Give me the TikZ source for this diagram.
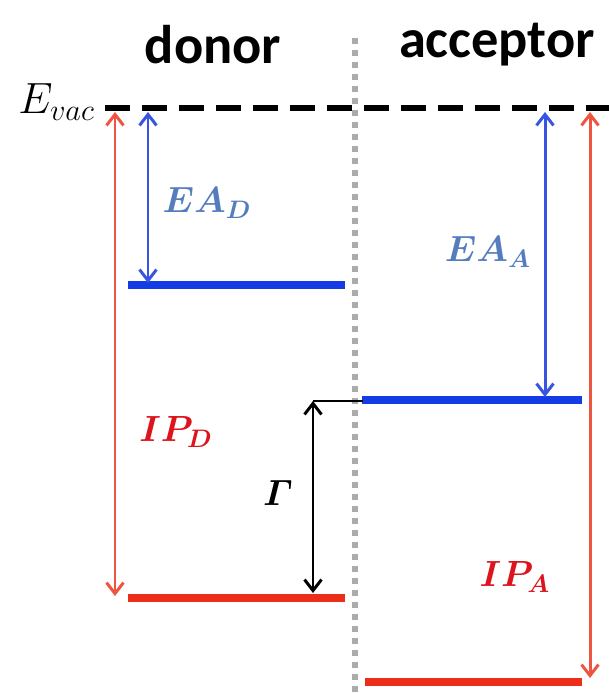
\documentclass[tikz,border=0pt]{standalone}
\usepackage{amsmath,amssymb,bm}
\usepackage{fontspec}
\setsansfont{Carlito}
\usetikzlibrary{arrows.meta,positioning}
\definecolor{lumocolor}{RGB}{20,60,230}
\definecolor{homocolor}{RGB}{235,45,25}
\definecolor{eacolor}{RGB}{55,85,225}
\definecolor{ipcolor}{RGB}{238,85,65}
\definecolor{ealabel}{RGB}{85,125,190}
\definecolor{iplabel}{RGB}{220,20,30}
\tikzset{
  level/.style={
    line width=4pt
  },
  lumo/.style={
    level,
    draw=lumocolor
  },
  homo/.style={
    level,
    draw=homocolor
  },
  gap arrow/.style={
    <->,
    >={Straight Barb[length=2.2mm,width=3.4mm,line width=1.7pt]},
    line width=1.7pt
  },
  title/.style={
    font=\sffamily\bfseries\fontsize{31}{36}\selectfont
  },
  energy/.style={
    font=\fontsize{22}{26}\selectfont
  }
}

\begin{document}
\begin{tikzpicture}[x=0.02cm,y=-0.02cm]
  \useasboundingbox (0,0) rectangle (609,693);

  % titles
  \node[title] (don) at (213,45) {donor};
  \node[title] (acc) at (497,45) {acceptor};

  % vacuum level and interface
  \node[font=\fontsize{26}{30}\selectfont, anchor=east] (evac) at (101,102) {$E_{vac}$};
  \draw[line width=3.4pt, dash pattern=on 0.5cm off 0.24cm] (105,108) -- (609,108);
  \draw[line width=3.4pt, color=black!33, dash pattern=on 0.12cm off 0.12cm] (355,38) -- (355,693);

  % level end points
  \coordinate (vacD1) at (115,112);
  \coordinate (vacD2) at (148,112);
  \coordinate (vacA1) at (545,112);
  \coordinate (vacA2) at (590,112);
  \coordinate (lumoD) at (148,283);
  \coordinate (homoD1) at (115,596);
  \coordinate (homoD2) at (313,593);
  \coordinate (lumoA) at (545,397);
  \coordinate (homoA) at (590,678);
  \coordinate (step) at (313,401);

  % levels
  \draw[lumo] (128,285) -- (345,285);
  \draw[homo] (128,598) -- (345,598);
  \draw[lumo] (362,400) -- (582,400);
  \draw[homo] (365,682) -- (582,682);
  \draw[line width=1.2pt] (step) -- (363,401);

  % gaps
  \draw[gap arrow, draw=ipcolor] (vacD1) -- (homoD1);
  \draw[gap arrow, draw=eacolor] (vacD2) -- (lumoD);
  \draw[gap arrow, draw=eacolor] (vacA1) -- (lumoA);
  \draw[gap arrow, draw=ipcolor] (vacA2) -- (homoA);
  \draw[gap arrow, draw=black] (step) -- (homoD2);

  % labels
  \node[energy, text=ealabel] (ead) at (207,203) {$\bm{EA_D}$};
  \node[energy, text=iplabel] (ipd) at (176,432) {$\bm{IP_D}$};
  \node[energy] (gam) at (278,493) {$\bm{\varGamma}$};
  \node[energy, text=ealabel] (eaa) at (488,252) {$\bm{EA_A}$};
  \node[energy, text=iplabel] (ipa) at (515,577) {$\bm{IP_A}$};
\end{tikzpicture}
\end{document}
